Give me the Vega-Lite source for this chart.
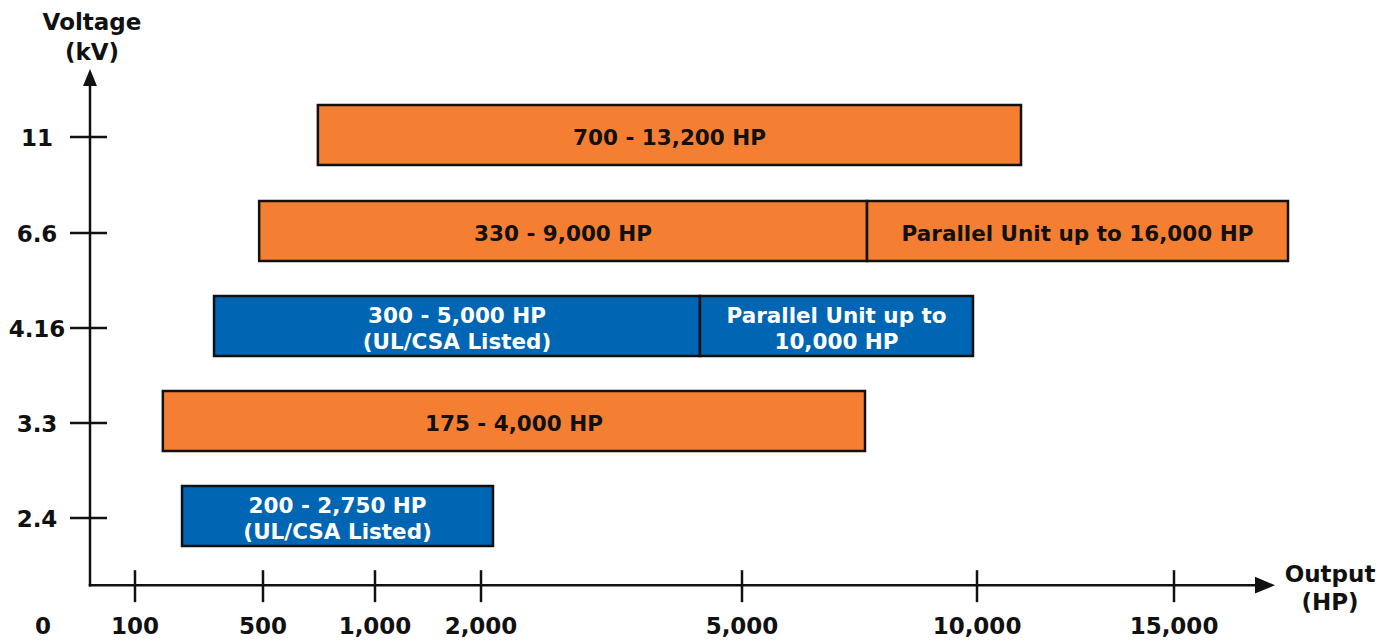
{
  "$schema": "https://vega.github.io/schema/vega-lite/v6.json",
  "width": 1391,
  "height": 641,
  "autosize": "none",
  "padding": 0,
  "background": "white",
  "config": {"view": {"stroke": null}},
  "datasets": {
    "bars": [
      {"kv": 11, "lo": 745, "hi": 11117, "mid": 4167, "series": "Standard", "label": ["700 - 13,200 HP"]},
      {"kv": 6.6, "lo": 488, "hi": 7660, "mid": 2943, "series": "Standard", "label": ["330 - 9,000 HP"]},
      {"kv": 6.6, "lo": 7660, "hi": 17879, "mid": 12551, "series": "Standard", "label": ["Parallel Unit up to 16,000 HP"]},
      {"kv": 4.16, "lo": 347, "hi": 4517, "mid": 1774, "series": "UL/CSA Listed", "label": ["300 - 5,000 HP", "(UL/CSA Listed)"]},
      {"kv": 4.16, "lo": 4517, "hi": 9915, "mid": 7011, "series": "UL/CSA Listed", "label": ["Parallel Unit up to", "10,000 HP"]},
      {"kv": 3.3, "lo": 187, "hi": 7617, "mid": 2379, "series": "Standard", "label": ["175 - 4,000 HP"]},
      {"kv": 2.4, "lo": 247, "hi": 2138, "mid": 833, "series": "UL/CSA Listed", "label": ["200 - 2,750 HP", "(UL/CSA Listed)"]}
    ],
    "yticks": [
      {"kv": 2.4, "label": "2.4"},
      {"kv": 3.3, "label": "3.3"},
      {"kv": 4.16, "label": "4.16"},
      {"kv": 6.6, "label": "6.6"},
      {"kv": 11, "label": "11"}
    ],
    "xticks": [
      {"hp": 0, "label": "0"},
      {"hp": 100, "label": "100"},
      {"hp": 500, "label": "500"},
      {"hp": 1000, "label": "1,000"},
      {"hp": 2000, "label": "2,000"},
      {"hp": 5000, "label": "5,000"},
      {"hp": 10000, "label": "10,000"},
      {"hp": 15000, "label": "15,000"}
    ]
  },
  "layer": [
    {
      "data": {"name": "bars"},
      "mark": {"type": "bar", "height": 60, "stroke": "#111111", "strokeWidth": 2.5, "yOffset": -2},
      "encoding": {
        "x": {"field": "lo", "type": "quantitative", "axis": null,
              "scale": {"type": "linear", "domain": [0, 100, 500, 1000, 2000, 5000, 10000, 15000, 17500], "range": [90, 135, 263, 375, 481, 742, 977, 1174, 1273], "zero": false, "nice": false}},
        "x2": {"field": "hi"},
        "y": {"field": "kv", "type": "quantitative", "axis": null,
              "scale": {"type": "linear", "domain": [0, 2.4, 3.3, 4.16, 6.6, 11, 14], "range": [589, 518, 423, 328, 233, 137, 66], "zero": false, "nice": false}},
        "color": {"field": "series", "type": "nominal", "legend": null,
                  "scale": {"domain": ["Standard", "UL/CSA Listed"], "range": ["#F47F32", "#0066B3"]}}
      }
    },
    {
      "data": {"name": "bars"},
      "transform": [{"filter": "length(datum.label) == 1"}],
      "mark": {"type": "text", "font": "DejaVu Sans", "fontWeight": "bold", "fontSize": 21.5, "lineHeight": 26, "align": "center", "baseline": "middle", "dy": 2},
      "encoding": {
        "x": {"field": "mid", "type": "quantitative"},
        "y": {"field": "kv", "type": "quantitative"},
        "text": {"field": "label"},
        "color": {"condition": {"test": "datum.series === 'UL/CSA Listed'", "value": "#ffffff"}, "value": "#111111"}
      }
    },
    {
      "data": {"name": "bars"},
      "transform": [{"filter": "length(datum.label) > 1"}],
      "mark": {"type": "text", "font": "DejaVu Sans", "fontWeight": "bold", "fontSize": 21.5, "lineHeight": 26, "align": "center", "baseline": "middle", "dy": -11},
      "encoding": {
        "x": {"field": "mid", "type": "quantitative"},
        "y": {"field": "kv", "type": "quantitative"},
        "text": {"field": "label"},
        "color": {"condition": {"test": "datum.series === 'UL/CSA Listed'", "value": "#ffffff"}, "value": "#111111"}
      }
    },
    {
      "data": {"values": [{}]},
      "mark": {"type": "rule", "stroke": "#111111", "strokeWidth": 2.5, "strokeCap": "square", "x2Offset": -8},
      "encoding": {
        "x": {"datum": 0, "type": "quantitative"},
        "x2": {"datum": 17500},
        "y": {"datum": 0, "type": "quantitative"}
      }
    },
    {
      "data": {"values": [{}]},
      "mark": {"type": "rule", "stroke": "#111111", "strokeWidth": 2.5, "strokeCap": "square", "y2Offset": 8},
      "encoding": {
        "x": {"datum": 0, "type": "quantitative"},
        "y": {"datum": 0, "type": "quantitative"},
        "y2": {"datum": 14}
      }
    },
    {
      "data": {"values": [{}]},
      "mark": {"type": "point", "shape": "M0,0L0.41,1L-0.41,1Z", "size": 1156, "filled": true, "fill": "#111111", "strokeWidth": 0, "opacity": 1},
      "encoding": {
        "x": {"datum": 0, "type": "quantitative"},
        "y": {"datum": 14, "type": "quantitative"}
      }
    },
    {
      "data": {"values": [{}]},
      "mark": {"type": "point", "shape": "M0,0L-1,0.42L-1,-0.42Z", "size": 1600, "filled": true, "fill": "#111111", "strokeWidth": 0, "opacity": 1, "xOffset": 2},
      "encoding": {
        "x": {"datum": 17500, "type": "quantitative"},
        "y": {"datum": 0, "type": "quantitative"}
      }
    },
    {
      "data": {"name": "yticks"},
      "mark": {"type": "rule", "stroke": "#111111", "strokeWidth": 2.5, "xOffset": -20, "x2Offset": 17},
      "encoding": {
        "y": {"field": "kv", "type": "quantitative"},
        "x": {"datum": 0, "type": "quantitative"},
        "x2": {"datum": 0}
      }
    },
    {
      "data": {"name": "yticks"},
      "mark": {"type": "text", "font": "DejaVu Sans", "fontWeight": "bold", "fontSize": 23, "align": "center", "baseline": "middle", "dx": -53, "dy": 2, "color": "#111111"},
      "encoding": {
        "y": {"field": "kv", "type": "quantitative"},
        "x": {"datum": 0, "type": "quantitative"},
        "text": {"field": "label"}
      }
    },
    {
      "data": {"name": "xticks"},
      "transform": [{"filter": "datum.hp > 0"}],
      "mark": {"type": "rule", "stroke": "#111111", "strokeWidth": 2.5, "yOffset": -15, "y2Offset": 17},
      "encoding": {
        "x": {"field": "hp", "type": "quantitative"},
        "y": {"datum": 0, "type": "quantitative"},
        "y2": {"datum": 0}
      }
    },
    {
      "data": {"name": "xticks"},
      "transform": [{"filter": "datum.hp > 0"}],
      "mark": {"type": "text", "font": "DejaVu Sans", "fontWeight": "bold", "fontSize": 23, "align": "center", "baseline": "middle", "dy": 42, "color": "#111111"},
      "encoding": {
        "x": {"field": "hp", "type": "quantitative"},
        "y": {"datum": 0, "type": "quantitative"},
        "text": {"field": "label"}
      }
    },
    {
      "data": {"name": "xticks"},
      "transform": [{"filter": "datum.hp == 0"}],
      "mark": {"type": "text", "font": "DejaVu Sans", "fontWeight": "bold", "fontSize": 23, "align": "center", "baseline": "middle", "dy": 42, "dx": -47, "color": "#111111"},
      "encoding": {
        "x": {"field": "hp", "type": "quantitative"},
        "y": {"datum": 0, "type": "quantitative"},
        "text": {"field": "label"}
      }
    },
    {
      "data": {"values": [{}]},
      "mark": {"type": "text", "font": "DejaVu Sans", "fontWeight": "bold", "fontSize": 23, "lineHeight": 30, "align": "center", "baseline": "alphabetic", "dx": 2, "dy": -39, "color": "#111111"},
      "encoding": {
        "x": {"datum": 0, "type": "quantitative"},
        "y": {"datum": 14, "type": "quantitative"},
        "text": {"value": ["Voltage", "(kV)"]}
      }
    },
    {
      "data": {"values": [{}]},
      "mark": {"type": "text", "font": "DejaVu Sans", "fontWeight": "bold", "fontSize": 23, "lineHeight": 28, "align": "center", "baseline": "alphabetic", "dx": 57, "dy": -3, "color": "#111111"},
      "encoding": {
        "x": {"datum": 17500, "type": "quantitative"},
        "y": {"datum": 0, "type": "quantitative"},
        "text": {"value": ["Output", "(HP)"]}
      }
    }
  ]
}
